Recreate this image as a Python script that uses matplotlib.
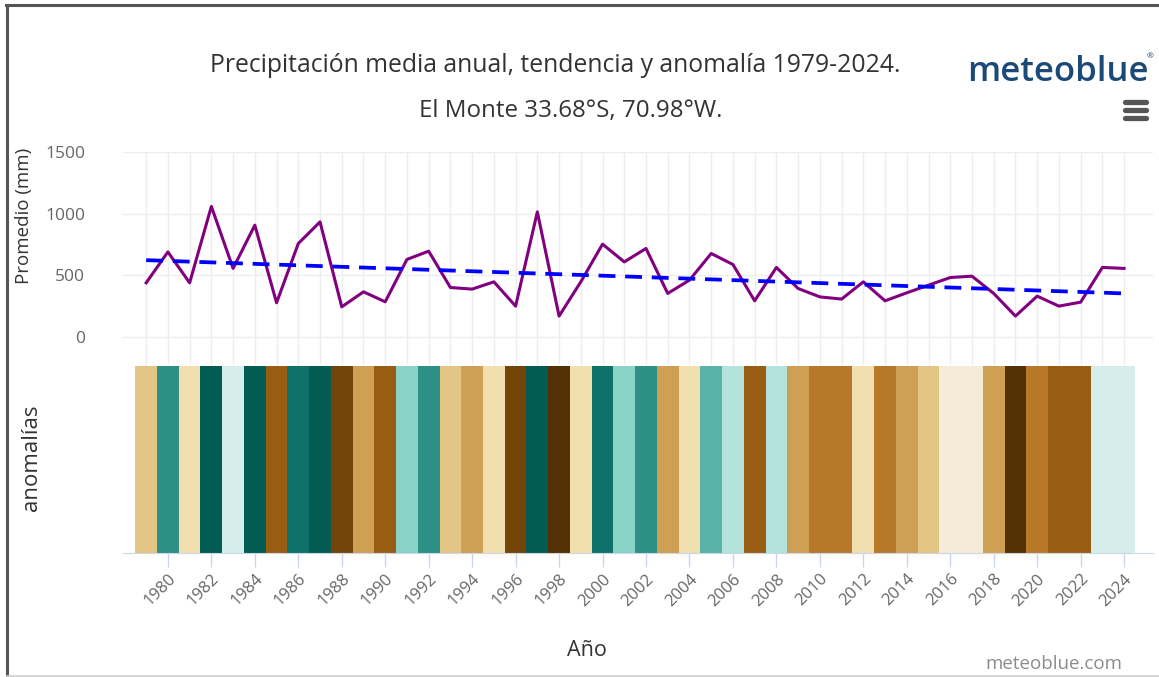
import numpy as np
import matplotlib
matplotlib.use("Agg")
import matplotlib.pyplot as plt
from matplotlib.lines import Line2D

# ===== DATA =====
years = list(range(1979, 2025))
precip = [438, 689, 438, 1058, 555, 906, 276, 757, 933, 243,
          365, 284, 628, 695, 400, 387, 446, 249, 1014, 168,
          446, 752, 608, 717, 352, 460, 676, 587, 292, 563,
          392, 324, 306, 446, 292, 357, 419, 481, 492, 352,
          168, 330, 249, 281, 563, 555]
trend_years = [1979, 2024]
trend_values = [622, 352]
# anomaly class per year: negative = dry (brown), positive = wet (teal)
anomaly_level = [-2, 5, -1, 7, 1, 7, -5, 6, 7, -6,
                 -3, -5, 3, 5, -2, -3, -1, -6, 7, -7,
                 -1, 6, 3, 5, -3, -1, 4, 2, -5, 2,
                 -3, -4, -4, -1, -4, -3, -2, 0, 0, -3,
                 -7, -4, -5, -5, 1, 1]
y_ticks = [0, 500, 1000, 1500]
x_ticks = list(range(1980, 2025, 2))

# ===== STYLE =====
palette = {-7: "#543005", -6: "#744509", -5: "#985d13", -4: "#b77828",
           -3: "#cfa053", -2: "#e3c585", -1: "#f2dfb0", 0: "#f5ecd7",
           1: "#d6eeeb", 2: "#b4e2dc", 3: "#8ad3c6", 4: "#5ab3a8",
           5: "#2e8f86", 6: "#0e716a", 7: "#035c51"}
plt.rcParams['font.family'] = ['Open Sans', 'DejaVu Sans']
W, H = 1159, 677
label_grey = "#666666"
text_dark = "#333333"

fig = plt.figure(figsize=(W / 100, H / 100), dpi=100)

def fx(px):
    return px / W

def fy(py):
    return 1 - py / H

xlim = (1977.92, 2025.33)
ax_left, ax_right = 122.7, 1153

# ===== TOP PANEL: precipitation + trend =====
ax = fig.add_axes([fx(ax_left), fy(365), fx(ax_right - ax_left), fy(152) - fy(365)])
ax.plot(years, precip, color="#800080", lw=2.2, zorder=3)
ax.plot(trend_years, trend_values, color="#0000ff", lw=2.7,
        dashes=(4.5, 2.6), zorder=4)
ax.set_xlim(*xlim)
ax.set_ylim(-229, 1500)
ax.set_yticks(y_ticks)
ax.set_xticks(years)
ax.tick_params(axis='x', length=0, labelbottom=False)
ax.tick_params(axis='y', length=0, labelsize=12.5, labelcolor=label_grey, pad=27)
ax.grid(True, color="#ededed", lw=1.0)
for s in ax.spines.values():
    s.set_visible(False)
ax.set_ylabel("Promedio (mm)", fontsize=13.5, color=text_dark)
ax.yaxis.set_label_coords((33 - ax_left) / (ax_right - ax_left), 0.70)

# ===== BOTTOM PANEL: anomaly stripes =====
bx = fig.add_axes([fx(ax_left), fy(553), fx(ax_right - ax_left), fy(366) - fy(553)])
bx.bar(years, [1] * len(years), width=1.0,
       color=[palette[a] for a in anomaly_level], zorder=2)
bx.set_xlim(*xlim)
bx.set_ylim(0, 1)
bx.set_yticks([])
bx.set_xticks(x_ticks)
bx.set_xticklabels([str(t) for t in x_ticks], rotation=45, ha='right',
                   va='top', rotation_mode='anchor')
bx.tick_params(axis='x', length=10, width=1, color="#ccd6eb",
               labelsize=12, labelcolor=label_grey, pad=3)
for s in ["top", "left", "right"]:
    bx.spines[s].set_visible(False)
bx.spines["bottom"].set_color("#ccd6eb")
bx.set_ylabel("anomalías", fontsize=16, color=text_dark)
bx.yaxis.set_label_coords((42 - ax_left) / (ax_right - ax_left), 0.508)
bx.set_xlabel("Año", fontsize=15.5, color=text_dark)
bx.xaxis.set_label_coords((587 - ax_left) / (ax_right - ax_left), -0.465)

# ===== TITLES / BRANDING =====
fig.text(fx(555), fy(65), "Precipitación media anual, tendencia y anomalía 1979-2024.",
         ha='center', va='center', fontsize=17.8, color=text_dark)
fig.text(fx(571), fy(111), "El Monte 33.68°S, 70.98°W.",
         ha='center', va='center', fontsize=17.4, color=text_dark)
fig.text(fx(967), fy(81), "meteoblue", ha='left', va='baseline',
         fontsize=25, color="#1c4a78", fontweight='semibold')
fig.text(fx(1147), fy(57), "®", ha='left', va='center', fontsize=6, color="#1c4a78")
for yy in (102, 110, 118):
    fig.add_artist(Line2D([fx(1125), fx(1146)], [fy(yy)] * 2,
                          color="#555555", lw=3.8, solid_capstyle='round'))
fig.text(fx(1122), fy(664), "meteoblue.com", ha='right', va='center',
         fontsize=13.5, color="#8c8c8c")

# ===== SCREENSHOT FRAME =====
fig.add_artist(Line2D([fx(6), fx(1159)], [fy(5), fy(5)], color="#555555", lw=2.2))
fig.add_artist(Line2D([fx(7), fx(7)], [fy(5), fy(677)], color="#555555", lw=2.2))
fig.add_artist(Line2D([fx(7), fx(1159)], [fy(675.5), fy(675.5)], color="#d0d0d0", lw=1.2))

fig.savefig("out.png", dpi=100)
